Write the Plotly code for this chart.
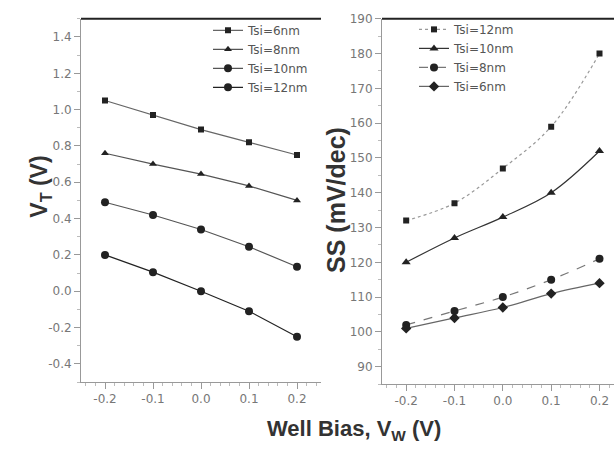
import plotly.graph_objects as go

well_bias = [-0.2, -0.1, 0.0, 0.1, 0.2]
x_tick_text = ["-0.2", "-0.1", "0.0", "0.1", "0.2"]

vt_labels = ["Tsi=6nm", "Tsi=8nm", "Tsi=10nm", "Tsi=12nm"]
vt_6nm = [1.05, 0.97, 0.89, 0.82, 0.75]
vt_8nm = [0.76, 0.70, 0.645, 0.58, 0.50]
vt_10nm = [0.49, 0.42, 0.34, 0.245, 0.135]
vt_12nm = [0.20, 0.105, 0.0, -0.11, -0.25]
vt_ticks = [-0.4, -0.2, 0.0, 0.2, 0.4, 0.6, 0.8, 1.0, 1.2, 1.4]
vt_tick_text = ["-0.4", "-0.2", "0.0", "0.2", "0.4", "0.6", "0.8", "1.0", "1.2", "1.4"]

ss_labels = ["Tsi=12nm", "Tsi=10nm", "Tsi=8nm", "Tsi=6nm"]
ss_12nm = [132, 137, 147, 159, 180]
ss_10nm = [120, 127, 133, 140, 152]
ss_8nm = [102, 106, 110, 115, 121]
ss_6nm = [101, 104, 107, 111, 114]
ss_ticks = [90, 100, 110, 120, 130, 140, 150, 160, 170, 180, 190]

FONT = "Liberation Sans, Arial, sans-serif"
TFONT = "DejaVu Sans, sans-serif"
fig = go.Figure()

vt_series = [vt_6nm, vt_8nm, vt_10nm, vt_12nm]
vt_symbols = ["square", "triangle-up", "circle", "circle"]
vt_colors = ["#666", "#555", "#555", "#222"]
vt_sizes = [6, 7, 8, 8]
for lab, ys, sym, col, sz in zip(vt_labels, vt_series, vt_symbols, vt_colors, vt_sizes):
    fig.add_trace(go.Scatter(
        x=well_bias, y=ys, name=lab, mode="lines+markers",
        line=dict(color=col, width=1.2),
        marker=dict(symbol=sym, size=sz, color="#222"),
        xaxis="x", yaxis="y", legend="legend"))

ss_series = [ss_12nm, ss_10nm, ss_8nm, ss_6nm]
ss_symbols = ["square", "triangle-up", "circle", "diamond"]
ss_colors = ["#999", "#333", "#777", "#666"]
ss_dash = ["dot", "solid", "dash", "solid"]
ss_sizes = [6, 8, 8, 8]
for lab, ys, sym, col, dsh, sz in zip(ss_labels, ss_series, ss_symbols, ss_colors, ss_dash, ss_sizes):
    fig.add_trace(go.Scatter(
        x=well_bias, y=ys, name=lab, mode="lines+markers",
        line=dict(color=col, width=1.2, shape="spline", dash=dsh),
        marker=dict(symbol=sym, size=sz, color="#222"),
        xaxis="x2", yaxis="y2", legend="legend2"))

axis_common = dict(
    showgrid=False, zeroline=False, showline=True, linecolor="#999", linewidth=1,
    ticks="outside", ticklen=6, tickcolor="#999",
    tickfont=dict(family=TFONT, size=12, color="#777"),
    minor=dict(ticks="outside", ticklen=3, tickcolor="#bbb"),
)

fig.update_layout(
    width=614, height=450,
    margin=dict(l=0, r=0, t=0, b=0),
    paper_bgcolor="white", plot_bgcolor="white",
    font=dict(family=FONT, color="#333"),
    xaxis=dict(domain=[81/614, 321/614], range=[-0.25, 0.25], anchor="y",
               tickvals=well_bias, ticktext=x_tick_text, **axis_common),
    yaxis=dict(domain=[1-381/450, 1-12/450], range=[-0.5, 1.5], anchor="x",
               tickvals=vt_ticks, ticktext=vt_tick_text, **axis_common),
    xaxis2=dict(domain=[382/614, 1.0], range=[-0.25, 0.23], anchor="y2",
                tickvals=well_bias, ticktext=x_tick_text, **axis_common),
    yaxis2=dict(domain=[1-383/450, 1-12/450], range=[85, 190], anchor="x2",
                tickvals=ss_ticks, **axis_common),
    legend=dict(x=208/614, y=1-9/450, xref="paper", yref="paper", xanchor="left", yanchor="top",
                bgcolor="rgba(0,0,0,0)", font=dict(family=TFONT, size=12, color="#555"),
                tracegroupgap=0),
    legend2=dict(x=414/614, y=1-8/450, xref="paper", yref="paper", xanchor="left", yanchor="top",
                 bgcolor="rgba(0,0,0,0)", font=dict(family=TFONT, size=12, color="#555"),
                 tracegroupgap=0),
    showlegend=True,
)

# top borders
fig.add_shape(type="line", xref="x domain", yref="y domain", x0=0, x1=1, y0=1, y1=1,
              line=dict(color="#222", width=2))
fig.add_shape(type="line", xref="x2 domain", yref="y2 domain", x0=0, x1=1, y0=1, y1=1,
              line=dict(color="#222", width=2))

fig.add_annotation(text="<b>V<sub>T</sub> (V)</b>", x=24/614, y=1-183/450, xref="paper", yref="paper",
                   textangle=-90, showarrow=False,
                   font=dict(family=FONT, size=23, color="#333"))
fig.add_annotation(text="<b>SS (mV/dec)</b>", x=336/614, y=1-196/450, xref="paper", yref="paper",
                   textangle=-90, showarrow=False,
                   font=dict(family=FONT, size=25, color="#333"))
fig.add_annotation(text="<b>Well Bias, V<sub>W</sub> (V)</b>", x=354/614, y=1-446/450,
                   xref="paper", yref="paper", showarrow=False,
                   font=dict(family=FONT, size=22, color="#333"))

fig.write_html("out.html")
